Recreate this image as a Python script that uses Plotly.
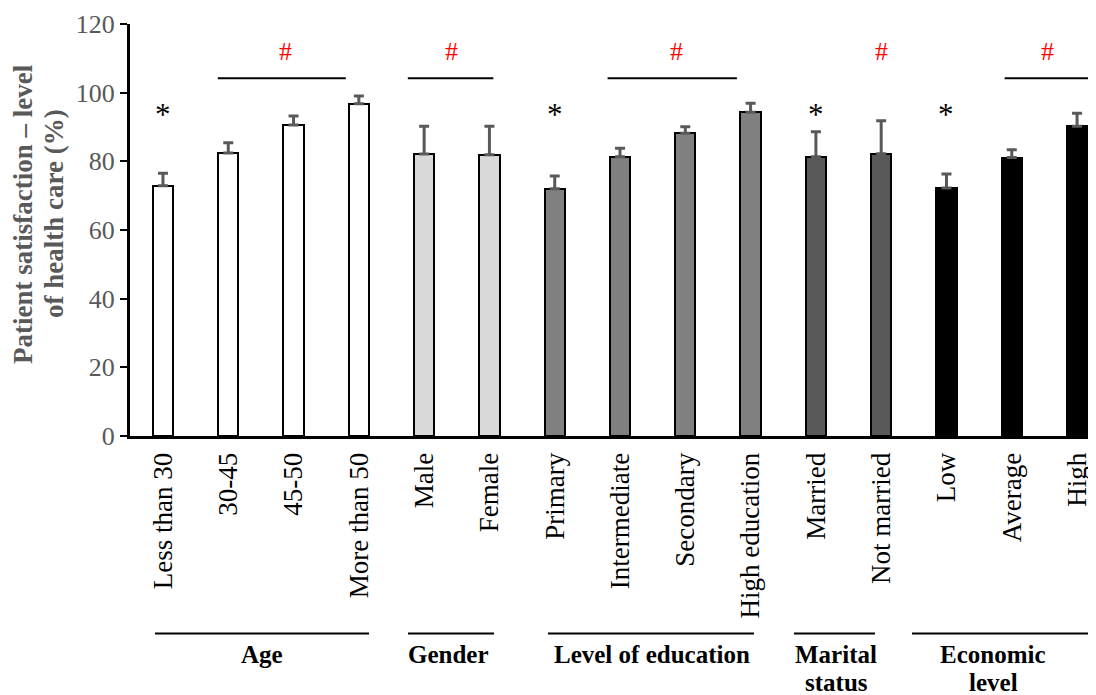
import plotly.graph_objects as go

categories = ["Less than 30", "30-45", "45-50", "More than 50", "Male", "Female",
              "Primary", "Intermediate", "Secondary", "High education",
              "Married", "Not married", "Low", "Average", "High"]
values = [72.9, 82.4, 90.6, 96.8, 82.1, 81.9, 72.0, 81.3, 88.2, 94.3, 81.3, 82.2, 72.2, 81.1, 90.2]
errors = [3.6, 3.0, 2.6, 2.2, 8.1, 8.3, 3.7, 2.5, 1.9, 2.6, 7.3, 9.6, 4.1, 2.3, 3.8]
groups = ["Age"] * 4 + ["Gender"] * 2 + ["Level of education"] * 4 + ["Marital status"] * 2 + ["Economic level"] * 3
group_colors = {"Age": "#ffffff", "Gender": "#d9d9d9", "Level of education": "#808080",
                "Marital status": "#595959", "Economic level": "#000000"}
y_ticks = [0, 20, 40, 60, 80, 100, 120]

# significance markers
star_idx = [0, 6, 10, 12]
hash_marks = [  # (x of '#', line start, line end or None)
    (1.88, 0.84, 2.80),
    (4.42, 3.75, 5.06),
    (7.87, 6.81, 8.79),
    (11.0, None, None),
    (13.55, 12.89, 14.2),
]

XMIN, XMAX = -0.505, 14.29
SERIF = "Liberation Serif, Times New Roman, serif"

# page body has an 8px margin; figure is offset accordingly
OFF = 8

fig = go.Figure()
fig.add_trace(go.Bar(
    x=list(range(len(categories))), y=values, width=0.31,
    marker=dict(color=[group_colors[g] for g in groups], line=dict(color="black", width=2)),
    error_y=dict(type="data", symmetric=False, array=errors, arrayminus=[0] * len(errors),
                 color="#595959", thickness=3, width=5),
    showlegend=False,
))

shapes = []
annotations = []
for i in star_idx:
    annotations.append(dict(x=i, y=93.5, xref="x", yref="y", text="*", showarrow=False,
                            xanchor="center", yanchor="middle",
                            font=dict(family=SERIF, size=31, color="black")))
for hx, x0, x1 in hash_marks:
    annotations.append(dict(x=hx, y=112, xref="x", yref="y", text="#", showarrow=False,
                            xanchor="center", yanchor="middle",
                            font=dict(family=SERIF, size=26, color="red")))
    if x0 is not None:
        shapes.append(dict(type="line", xref="x", yref="y", x0=x0, x1=x1, y0=104.2, y1=104.2,
                           line=dict(color="black", width=2)))


def px2paper(px):
    return (px - 130) / 966.0


def py2paper(py):
    return (436 - py) / 412.0


group_lines = [(155, 369), (408, 494), (548, 754), (794, 875), (912, 1096)]
group_label_x = [262, 448, 652, 836, 993]
group_label_lines = [["Age"], ["Gender"], ["Level of education"], ["Marital", "status"], ["Economic", "level"]]
for (a, b), lx, lines in zip(group_lines, group_label_x, group_label_lines):
    shapes.append(dict(type="line", xref="paper", yref="paper", x0=px2paper(a), x1=px2paper(b),
                       y0=py2paper(633.5), y1=py2paper(633.5), line=dict(color="black", width=2)))
    for k, txt in enumerate(lines):
        annotations.append(dict(x=px2paper(lx), y=py2paper(654 + 28 * k), xref="paper", yref="paper",
                                text="<b>%s</b>" % txt, showarrow=False,
                                yanchor="middle", xanchor="center",
                                font=dict(family=SERIF, size=25, color="black")))

for xpx, txt in [(23, "Patient satisfaction – level"), (54, "of health care (%)")]:
    annotations.append(dict(x=px2paper(xpx), y=py2paper(214), xref="paper", yref="paper",
                            text="<b>%s</b>" % txt,
                            textangle=-90, showarrow=False, xanchor="center", yanchor="middle",
                            font=dict(family=SERIF, size=27, color="#595959")))

fig.update_layout(
    width=1096 - OFF, height=695 - OFF,
    margin=dict(l=130 - OFF, r=0, t=24 - OFF, b=259),
    plot_bgcolor="white", paper_bgcolor="white",
    shapes=shapes, annotations=annotations,
    bargap=0,
    xaxis=dict(range=[XMIN, XMAX], tickvals=list(range(len(categories))), ticktext=categories,
               tickangle=-90, showgrid=False, zeroline=False, showline=True, linecolor="black",
               linewidth=3, ticks="", ticklabelstandoff=3,
               tickfont=dict(family=SERIF, size=27, color="black")),
    yaxis=dict(range=[0, 120], tickvals=y_ticks, showgrid=False, zeroline=False, showline=True,
               linecolor="black", linewidth=3, ticks="outside", ticklen=7, tickwidth=2,
               tickcolor="black", tickfont=dict(family=SERIF, size=26, color="#595959")),
)

fig.write_html("out.html")
